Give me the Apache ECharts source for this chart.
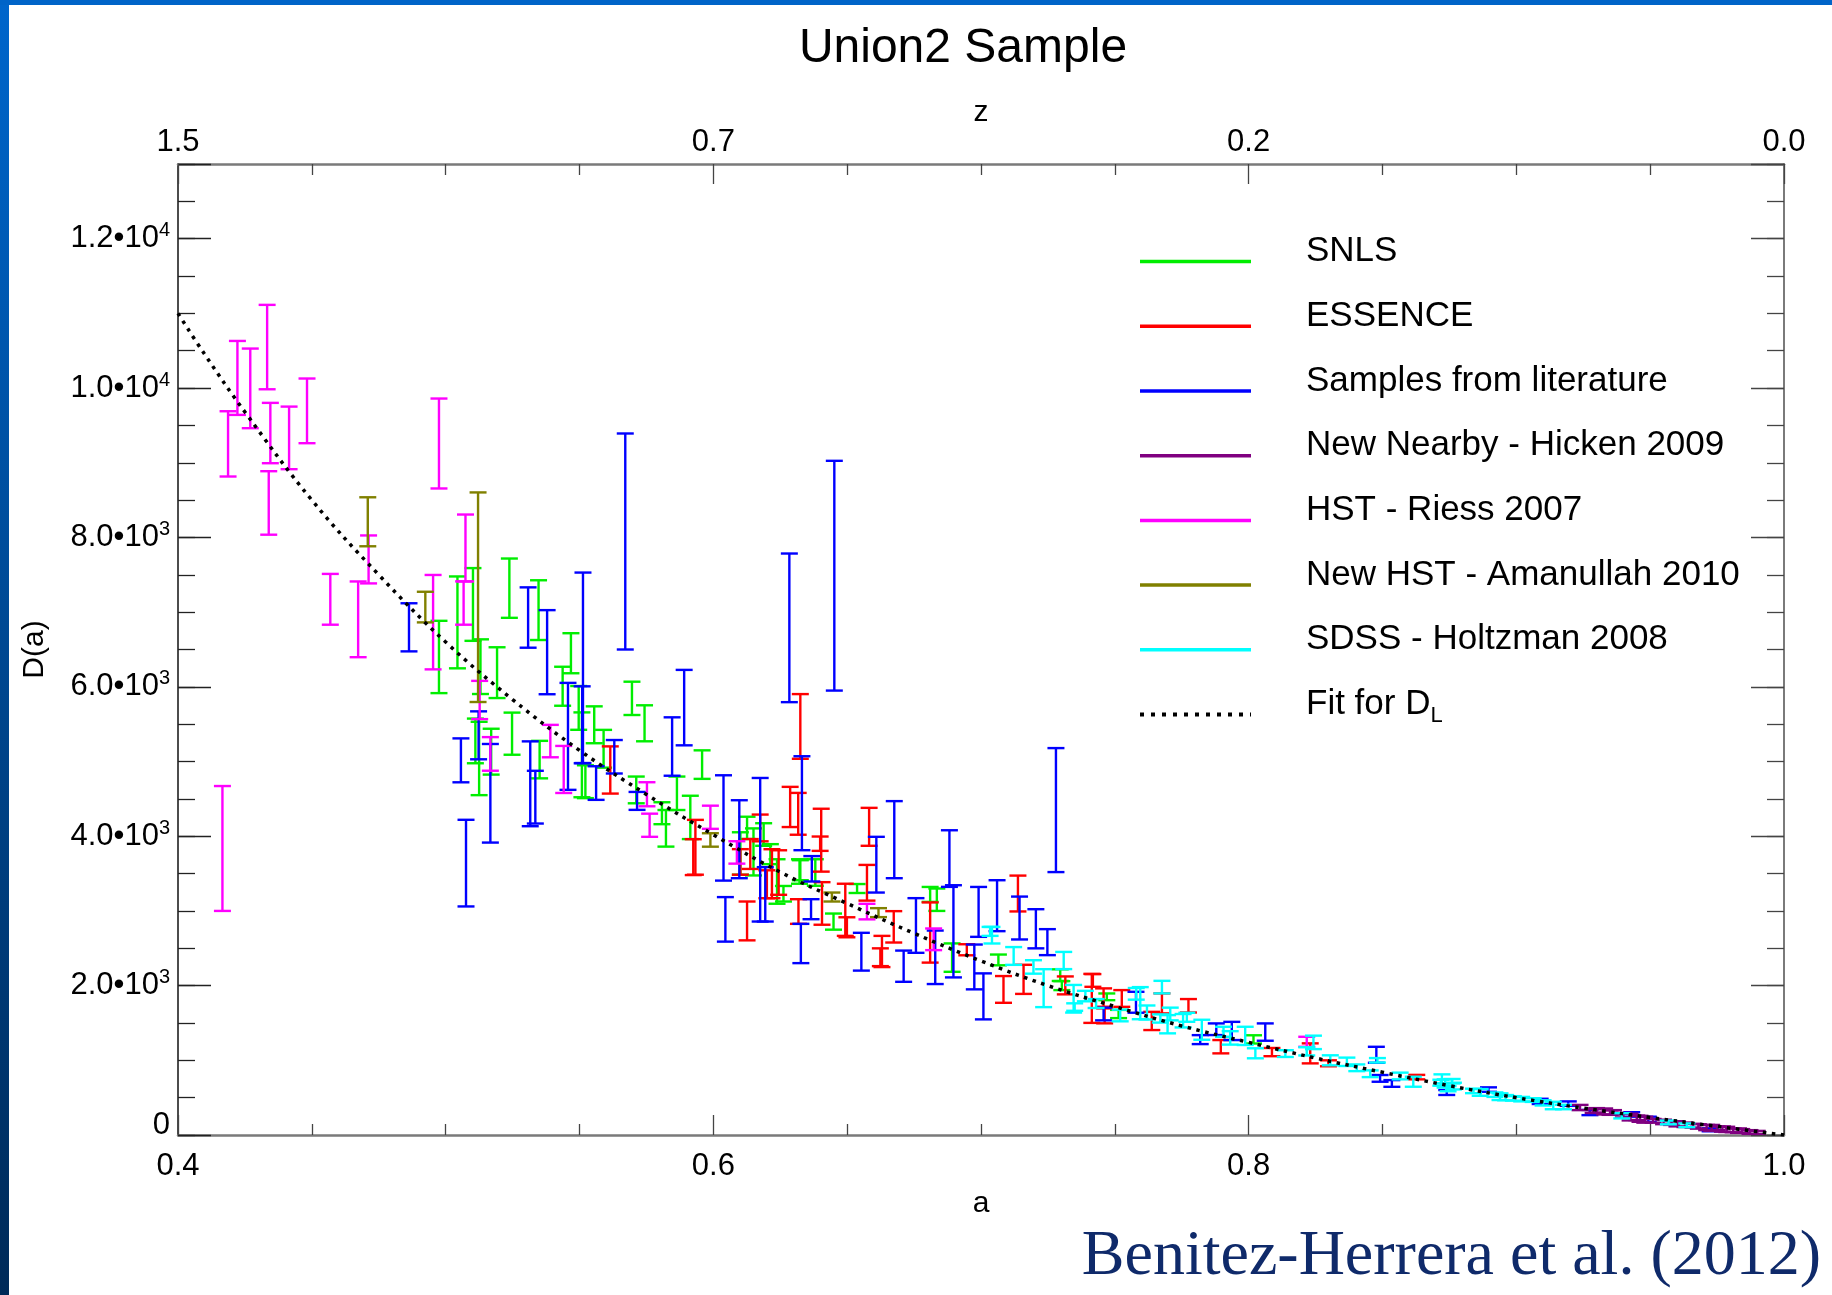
<!DOCTYPE html>
<html>
<head>
<meta charset="utf-8">
<title>Union2 Sample</title>
<script src="https://cdn.jsdelivr.net/npm/echarts@6/dist/echarts.min.js"></script>
<style>
  html, body { margin: 0; padding: 0; background: #ffffff; }
  #chart { width: 1832px; height: 1295px; }
</style>
</head>
<body>
<div id="chart"></div>
<script>
// Union2 supernova sample: distance D(a) against scale factor a, by survey.
// Each entry is [a, D, error] where error is the half-length of the error bar.

const snls = [
  [0.4975,6400,484],[0.5044,6863,615],[0.5102,7103,487],[0.5130,6270,366],[0.5125,5041,491],
  [0.5111,5276,299],[0.5192,6190,340],[0.5170,5132,307],[0.5238,7321,397],[0.5248,5373,282],
  [0.5347,7027,400],[0.5351,5026,251],[0.5468,6450,268],[0.5437,6008,261],[0.5509,5090,568],
  [0.5497,5718,293],[0.5522,4730,220],[0.5555,5492,247],[0.5590,5171,253],[0.5696,5846,223],
  [0.5743,5512,241],[0.5712,4620,179],[0.5864,4575,224],[0.5958,4959,191],[0.5823,4106,245],
  [0.5808,4308,147],[0.5914,4252,290],[0.6126,4112,149],[0.6101,3769,284],[0.6188,4023,151],
  [0.6238,3394,298],[0.6262,3230,104],[0.6322,3528,164],[0.6381,3514,178],[0.6449,2857,108],
  [0.6810,3221,100],[0.6835,3150,150],[0.6892,2375,190],[0.7065,2344,72],[0.7302,2000,60],
  [0.7514,1620,55],[0.8018,1280,55],[0.6150,3790,315],[0.6213,3760,134],[0.6325,3545,134],
  [0.6537,3300,60],[0.7296,2140,78],[0.7470,1850,45]
];

const essence = [
  [0.5615,4887,316],[0.5933,3852,367],[0.5925,3720,240],[0.6101,3656,171],[0.6126,2866,260],
  [0.6138,3762,200],[0.6175,4111,179],[0.6200,3357,187],[0.6219,3498,328],[0.6244,3514,298],
  [0.6287,4392,269],[0.6317,4300,280],[0.6318,2992,165],[0.6325,5470,433],[0.6399,3900,96],
  [0.6403,3947,421],[0.6406,3100,285],[0.6493,3015,349],[0.6499,2781,134],[0.6574,3377,239],
  [0.6582,4126,254],[0.6624,2380,119],[0.6630,2457,209],[0.6674,2787,210],[0.6810,2711,403],
  [0.6947,2480,74],[0.7084,1949,179],[0.7138,3233,240],[0.7159,2084,195],[0.7315,2003,120],
  [0.7414,1829,328],[0.7418,2069,85],[0.7458,1840,123],[0.7462,1595,100],[0.7526,1828,112],
  [0.7638,1527,122],[0.7676,1762,134],[0.7775,1730,90],[0.7896,1182,89],[0.8087,1110,55],
  [0.8230,1093,134],[0.8298,960,40],[0.8628,775,30]
];

const literature = [
  [0.4863,6797,322],[0.5057,5016,294],[0.5076,3640,580],[0.5123,5351,321],[0.5167,4575,660],
  [0.5308,6928,404],[0.5379,6464,563],[0.5316,4702,568],[0.5335,4523,353],[0.5457,5337,716],
  [0.5513,6255,1275],[0.5510,5492,515],[0.5671,7946,1446],[0.5630,5064,224],[0.5562,4712,225],
  [0.5715,4473,120],[0.5846,5201,391],[0.5891,5722,505],[0.6038,4111,705],[0.6045,2887,298],
  [0.6097,3960,522],[0.6175,3819,961],[0.6194,3222,364],[0.6284,6790,995],[0.6327,2564,263],
  [0.6331,4442,629],[0.6365,3023,134],[0.6368,3564,170],[0.6452,7488,1538],[0.6553,2454,253],
  [0.6609,3619,373],[0.6676,3954,516],[0.6711,2260,209],[0.6757,2805,366],[0.6829,2379,358],
  [0.6882,3701,379],[0.6897,2727,617],[0.6991,2987,334],[0.7009,1856,308],[0.6975,2250,300],
  [0.7060,3070,341],[0.7144,2905,287],[0.7205,2761,262],[0.7248,2582,174],[0.7280,4350,830],
  [0.7458,1620,85],[0.7579,1777,140],[0.7819,1277,60],[0.7879,1416,78],[0.7937,1393,122],
  [0.8062,1378,116],[0.8477,1074,107],[0.8491,758,45],[0.8535,690,45],[0.8740,569,33],
  [0.8896,608,30],[0.9089,450,35],[0.9194,420,30],[0.9275,301,35],[0.9431,275,30],
  [0.9493,210,35],[0.9724,70,20]
];

const nearby = [
  [0.9238,368,35],[0.9287,320,25],[0.9300,330,30],[0.9350,300,30],[0.9363,303,30],
  [0.9400,265,30],[0.9425,240,45],[0.9450,230,30],[0.9462,217,40],[0.9511,190,25],
  [0.9550,175,30],[0.9580,160,25],[0.9630,137,30],[0.9660,125,25],[0.9680,115,30],
  [0.9711,100,35],[0.9750,90,25],[0.9786,75,35],[0.9810,62,25],[0.9842,54,25],
  [0.9873,40,25],[0.9900,35,20],[0.9330,315,40],[0.9480,205,40],[0.9600,150,35],
  [0.9730,95,40],[0.9770,80,35],[0.9830,58,30]
];

const hstRiess = [
  [0.4166,3836,836],[0.4187,9253,437],[0.4222,10136,495],[0.4270,9996,533],[0.4333,10549,565],
  [0.4345,9398,404],[0.4339,8462,425],[0.4415,9333,419],[0.4482,9695,433],[0.4569,7172,340],
  [0.4673,6904,507],[0.4712,7706,321],[0.4975,9258,602],[0.4953,6866,632],[0.5074,7859,448],
  [0.5067,7122,290],[0.5127,5824,256],[0.5167,5102,225],[0.5391,5274,217],[0.5441,4894,315],
  [0.5752,4562,161],[0.5762,4147,155],[0.5989,4254,155],[0.6088,3783,150],[0.6574,2991,104],
  [0.6823,2620,145],[0.8217,1248,67]
];

const hstAmanullah = [
  [0.4709,8210,328],[0.4924,7068,205],[0.5121,7200,1403],[0.5989,3950,90],[0.6443,3186,60],
  [0.6617,2977,60]
];

const sdss = [
  [0.7034,2726,60],[0.7041,2675,111],[0.7122,2397,119],[0.7196,2250,90],[0.7234,1966,254],
  [0.7309,2336,115],[0.7346,1824,185],[0.7350,1713,50],[0.7390,1860,70],[0.7430,1760,60],
  [0.7520,1600,78],[0.7580,1890,78],[0.7595,1765,215],[0.7620,1640,94],[0.7676,1980,84],
  [0.7670,1560,55],[0.7697,1483,122],[0.7707,1620,85],[0.7755,1530,90],[0.7769,1576,60],
  [0.7825,1409,134],[0.7906,1382,67],[0.7931,1300,90],[0.7987,1327,122],[0.8025,1094,67],
  [0.8137,1090,45],[0.8217,1120,55],[0.8242,1240,90],[0.8305,1000,67],[0.8367,980,56],
  [0.8404,900,45],[0.8454,820,45],[0.8481,1000,30],[0.8566,790,45],[0.8615,713,67],
  [0.8722,752,60],[0.8765,655,45],[0.8734,690,55],[0.8865,570,45],[0.8939,513,45],
  [0.8989,490,30],[0.9063,468,25],[0.9138,395,50],[0.9176,375,30],[0.9394,257,35],
  [0.9568,168,25],[0.9637,130,25],[0.8718,700,40],[0.8745,620,35],[0.8760,720,30],
  [0.8840,590,30],[0.8920,540,30],[0.8960,500,35],[0.9020,480,30],[0.9100,430,35]
];

// Best-fit luminosity distance curve
const fitA = [0.40,0.41,0.425,0.45,0.475,0.50,0.525,0.55,0.575,0.60,0.625,0.65,0.675,
              0.70,0.725,0.75,0.775,0.80,0.825,0.85,0.875,0.90,0.925,0.95,0.975,1.0];
const fitD = [11000,10450,9680,8500,7500,6600,5830,5150,4560,4020,3520,3100,2700,
              2330,2000,1720,1460,1240,1030,840,660,500,360,235,115,0];

// Tick labels
const aTickLabels = ['0.4', '0.6', '0.8', '1.0'];
const zTickLabels = ['1.5', '0.7', '0.2', '0.0'];
const yTickLabels = ['0', '2.0•10^3', '4.0•10^3', '6.0•10^3', '8.0•10^3', '1.0•10^4', '1.2•10^4'];

const surveys = [
  { name: 'SNLS', data: snls, color: '#00ee00' },
  { name: 'ESSENCE', data: essence, color: '#ff0000' },
  { name: 'Samples from literature', data: literature, color: '#0000ff' },
  { name: 'New Nearby - Hicken 2009', data: nearby, color: '#800080' },
  { name: 'HST - Riess 2007', data: hstRiess, color: '#ff00ff' },
  { name: 'New HST - Amanullah 2010', data: hstAmanullah, color: '#808000' },
  { name: 'SDSS - Holtzman 2008', data: sdss, color: '#00ffff' }
];

const SANS = '"Liberation Sans", Arial, Helvetica, sans-serif';
const SERIF = '"Liberation Serif", "Times New Roman", Times, serif';

const chart = echarts.init(document.getElementById('chart'), null, { renderer: 'canvas' });

// Vertical error bar with short horizontal caps
function errorBar(params, api) {
  const a = api.value(0), d = api.value(1), e = api.value(2);
  const top = api.coord([a, d + e]);
  const bot = api.coord([a, d - e]);
  const hw = 8.5;
  const st = { stroke: api.visual('color'), lineWidth: 2.4 };
  return {
    type: 'group',
    children: [
      { type: 'line', shape: { x1: top[0], y1: top[1], x2: bot[0], y2: bot[1] }, style: st },
      { type: 'line', shape: { x1: top[0] - hw, y1: top[1], x2: top[0] + hw, y2: top[1] }, style: st },
      { type: 'line', shape: { x1: bot[0] - hw, y1: bot[1], x2: bot[0] + hw, y2: bot[1] }, style: st }
    ]
  };
}

function xLabel(list) {
  return function (v) {
    const i = Math.round((v - 0.4) / 0.2);
    return Math.abs(v - (0.4 + i * 0.2)) < 1e-6 ? list[i] : '';
  };
}

function yLabel(v) {
  const i = Math.round(v / 2000);
  if (Math.abs(v - i * 2000) > 1e-6 || i >= yTickLabels.length) return '';
  const t = yTickLabels[i];
  if (t.indexOf('^') < 0) return '{zero|' + t + '}';
  const parts = t.split('^');
  return '{m|' + parts[0] + '}{sup|' + parts[1] + '}';
}

const tickLine = { color: '#222', width: 1.3 };
const grayTick = { color: '#444', width: 1.3 };

const xCommon = {
  type: 'value', min: 0.4, max: 1.0, interval: 0.2,
  splitLine: { show: false },
  axisTick: { show: true, inside: true, length: 20, lineStyle: grayTick },
  minorTick: { show: true, splitNumber: 4, length: 11, lineStyle: grayTick },
  nameLocation: 'middle',
  nameTextStyle: { fontSize: 30, color: '#000', fontFamily: SANS }
};

const yCommon = { type: 'value', min: 0, max: 13000, splitLine: { show: false } };

// Legend drawn as graphic rows
const legendRows = surveys.map(s => ({ label: s.name, color: s.color }));
const legendX0 = 1140, legendX1 = 1251, legendTextX = 1306, legendY0 = 261.6, legendStep = 64.7;
const legendGraphics = [];
legendRows.forEach((r, i) => {
  const y = legendY0 + i * legendStep;
  legendGraphics.push({ type: 'line', shape: { x1: legendX0, y1: y, x2: legendX1, y2: y },
    style: { stroke: r.color, lineWidth: 3.5 } });
  legendGraphics.push({ type: 'text', x: legendTextX, y: y - 10,
    style: { text: r.label, fontSize: 35, fontFamily: SANS, fill: '#000', align: 'left', verticalAlign: 'middle' } });
});
{
  const y = legendY0 + legendRows.length * legendStep;
  legendGraphics.push({ type: 'line', shape: { x1: legendX0, y1: y, x2: legendX1, y2: y },
    style: { stroke: '#000', lineWidth: 4, lineDash: [4, 7] } });
  legendGraphics.push({ type: 'text', x: legendTextX, y: y - 10,
    style: { text: 'Fit for D{sub|L}', fontSize: 35, fontFamily: SANS, fill: '#000', align: 'left', verticalAlign: 'middle',
      rich: { sub: { fontSize: 22, fontFamily: SANS, fill: '#000', padding: [22, 0, 0, 0] } } } });
}

const option = {
  backgroundColor: '#ffffff',
  animation: false,
  title: {
    text: 'Union2 Sample', left: 958, top: 20, textAlign: 'center',
    textStyle: { fontSize: 48, fontWeight: 'normal', color: '#000', fontFamily: SANS }
  },
  grid: { left: 178, right: 48, top: 164, bottom: 160, containLabel: false },
  xAxis: [
    Object.assign({}, xCommon, {
      position: 'bottom', name: 'a', nameGap: 54,
      axisLine: { show: true, onZero: false, lineStyle: { color: '#7a7a7a', width: 2.5 } },
      axisLabel: { fontSize: 31, color: '#000', fontFamily: SANS, margin: 16,
        showMinLabel: true, showMaxLabel: true, formatter: xLabel(aTickLabels) }
    }),
    Object.assign({}, xCommon, {
      position: 'top', name: 'z', nameGap: 36, nameMoveOverlap: false,
      axisLine: { show: true, onZero: false, lineStyle: { color: '#7a7a7a', width: 2.5 } },
      axisLabel: { fontSize: 31, color: '#000', fontFamily: SANS, margin: 6,
        showMinLabel: true, showMaxLabel: true, formatter: xLabel(zTickLabels) }
    })
  ],
  yAxis: [
    Object.assign({}, yCommon, {
      position: 'left', interval: 2000,
      axisLine: { show: true, onZero: false, lineStyle: { color: '#111', width: 1.5 } },
      axisTick: { show: true, inside: true, length: 33, lineStyle: tickLine },
      axisLabel: {
        margin: 8, color: '#000', fontFamily: SANS, fontSize: 31, formatter: yLabel,
        rich: {
          m: { fontSize: 31, color: '#000', fontFamily: SANS },
          sup: { fontSize: 20, color: '#000', fontFamily: SANS, padding: [0, 0, 16, 0] },
          zero: { fontSize: 31, color: '#000', fontFamily: SANS, padding: [0, 0, 19, 0] }
        }
      },
      name: 'D(a)', nameLocation: 'middle', nameGap: 128,
      nameTextStyle: { fontSize: 30, color: '#000', fontFamily: SANS }
    }),
    Object.assign({}, yCommon, {
      position: 'left', interval: 500,
      axisLine: { show: false },
      axisTick: { show: true, inside: true, length: 17, lineStyle: tickLine },
      axisLabel: { show: false }
    }),
    Object.assign({}, yCommon, {
      position: 'right', interval: 2000,
      axisLine: { show: true, onZero: false, lineStyle: { color: '#7a7a7a', width: 2 } },
      axisTick: { show: true, inside: true, length: 33, lineStyle: grayTick },
      axisLabel: { show: false }
    }),
    Object.assign({}, yCommon, {
      position: 'right', interval: 500,
      axisLine: { show: false },
      axisTick: { show: true, inside: true, length: 17, lineStyle: grayTick },
      axisLabel: { show: false }
    })
  ],
  graphic: [
    { type: 'rect', left: 0, top: 0, z: 100, shape: { width: 9, height: 1295 },
      style: { fill: new echarts.graphic.LinearGradient(0, 0, 0, 1, [
        { offset: 0, color: '#0066cc' }, { offset: 1, color: '#002a58' }]) } },
    { type: 'rect', left: 0, top: 0, z: 100, shape: { width: 1832, height: 5 },
      style: { fill: '#0064c8' } },
    { type: 'text', x: 1821, y: 1257, z: 100,
      style: { text: 'Benitez-Herrera et al. (2012)', fontSize: 64, fontFamily: SERIF,
        fill: '#0f2a6a', align: 'right', verticalAlign: 'middle' } },
    { type: 'group', z: 100, children: legendGraphics }
  ],
  series: surveys.map((s, i) => ({
    type: 'custom', name: s.name, xAxisIndex: 0, yAxisIndex: 0,
    renderItem: errorBar, data: s.data, encode: { x: 0, y: [1] },
    itemStyle: { color: s.color }, z: 2 + i, silent: true
  })).concat([{
    type: 'line', name: 'Fit for D_L', xAxisIndex: 0, yAxisIndex: 0,
    data: fitA.map((a, i) => [a, fitD[i]]), showSymbol: false, smooth: 0.4,
    lineStyle: { color: '#000', width: 3.5, type: [3.5, 5.5] }, z: 20, silent: true
  }])
};

chart.setOption(option);
</script>
</body>
</html>
